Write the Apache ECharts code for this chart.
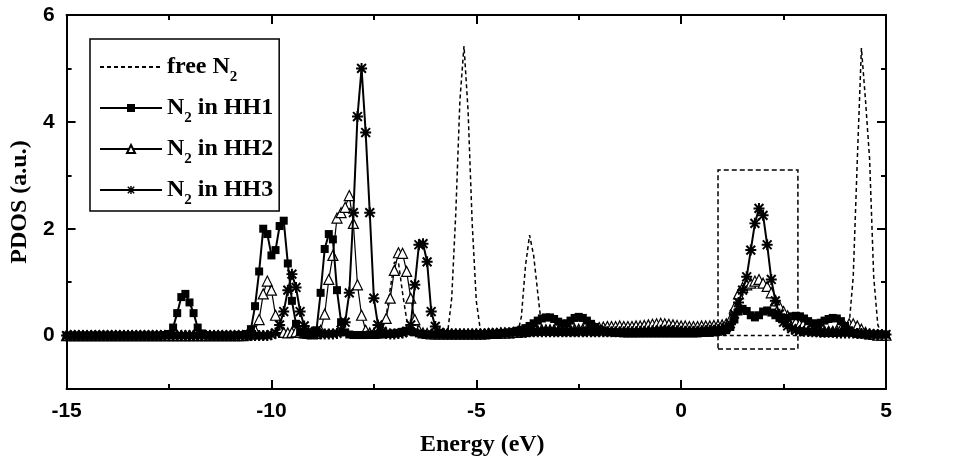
<!DOCTYPE html>
<html>
<head>
<meta charset="utf-8">
<title>PDOS of N2</title>
<script src="https://cdn.jsdelivr.net/npm/echarts@6.0.0/dist/echarts.min.js"></script>
<style>
    html, body { margin: 0; padding: 0; background: #fff; }
    #pdos_chart { width: 960px; height: 469px; }
</style>
</head>
<body>
<div id="pdos_chart"></div>
<script>
// energy grid (eV), one row per eV
var energy = [
    -15, -14.9, -14.8, -14.7, -14.6, -14.5, -14.4, -14.3, -14.2, -14.1,
    -14, -13.9, -13.8, -13.7, -13.6, -13.5, -13.4, -13.3, -13.2, -13.1,
    -13, -12.9, -12.8, -12.7, -12.6, -12.5, -12.4, -12.3, -12.2, -12.1,
    -12, -11.9, -11.8, -11.7, -11.6, -11.5, -11.4, -11.3, -11.2, -11.1,
    -11, -10.9, -10.8, -10.7, -10.6, -10.5, -10.4, -10.3, -10.2, -10.1,
    -10, -9.9, -9.8, -9.7, -9.6, -9.5, -9.4, -9.3, -9.2, -9.1,
    -9, -8.9, -8.8, -8.7, -8.6, -8.5, -8.4, -8.3, -8.2, -8.1,
    -8, -7.9, -7.8, -7.7, -7.6, -7.5, -7.4, -7.3, -7.2, -7.1,
    -7, -6.9, -6.8, -6.7, -6.6, -6.5, -6.4, -6.3, -6.2, -6.1,
    -6, -5.9, -5.8, -5.7, -5.6, -5.5, -5.4, -5.3, -5.2, -5.1,
    -5, -4.9, -4.8, -4.7, -4.6, -4.5, -4.4, -4.3, -4.2, -4.1,
    -4, -3.9, -3.8, -3.7, -3.6, -3.5, -3.4, -3.3, -3.2, -3.1,
    -3, -2.9, -2.8, -2.7, -2.6, -2.5, -2.4, -2.3, -2.2, -2.1,
    -2, -1.9, -1.8, -1.7, -1.6, -1.5, -1.4, -1.3, -1.2, -1.1,
    -1, -0.9, -0.8, -0.7, -0.6, -0.5, -0.4, -0.3, -0.2, -0.1,
    0, 0.1, 0.2, 0.3, 0.4, 0.5, 0.6, 0.7, 0.8, 0.9,
    1, 1.1, 1.2, 1.3, 1.4, 1.5, 1.6, 1.7, 1.8, 1.9,
    2, 2.1, 2.2, 2.3, 2.4, 2.5, 2.6, 2.7, 2.8, 2.9,
    3, 3.1, 3.2, 3.3, 3.4, 3.5, 3.6, 3.7, 3.8, 3.9,
    4, 4.1, 4.2, 4.3, 4.4, 4.5, 4.6, 4.7, 4.8, 4.9,
    5
];

var free_n2 = [
    0, 0, 0, 0, 0, 0, 0, 0, 0, 0,
    0, 0, 0, 0, 0, 0, 0, 0, 0, 0,
    0, 0, 0, 0, 0, 0, 0, 0, 0, 0,
    0, 0, 0, 0, 0, 0, 0, 0, 0, 0,
    0, 0, 0, 0, 0, 0, 0, 0, 0, 0,
    0, 0, 0, 0, 0, 0, 0, 0, 0, 0,
    0, 0, 0, 0, 0, 0, 0, 0, 0, 0,
    0, 0, 0, 0, 0, 0, 0.01, 0.1, 0.36, 0.88,
    1.37, 1.37, 0.8, 0.3, 0.07, 0.01, 0, 0, 0, 0,
    0, 0, 0.01, 0.05, 0.7, 2.3, 4.4, 5.42, 4.2, 2.1,
    0.65, 0.1, 0.01, 0, 0, 0, 0, 0, 0, 0,
    0.02, 0.35, 1.3, 1.88, 1.5, 0.8, 0.12, 0.01, 0, 0,
    0, 0, 0, 0, 0, 0, 0, 0, 0, 0,
    0, 0, 0, 0, 0, 0, 0, 0, 0, 0,
    0, 0, 0, 0, 0, 0, 0, 0, 0, 0,
    0, 0, 0, 0, 0, 0, 0, 0, 0, 0,
    0, 0, 0, 0, 0, 0, 0, 0, 0, 0,
    0, 0, 0, 0, 0, 0, 0, 0, 0, 0,
    0, 0, 0, 0, 0, 0, 0, 0, 0, 0,
    0.02, 0.2, 1.1, 3.3, 5.38, 4.4, 3.3, 1.1, 0.2, 0.02,
    0
];

var hh1 = [
    0, 0, 0, 0, 0, 0, 0, 0, 0, 0,
    0, 0, 0, 0, 0, 0, 0, 0, 0, 0,
    0, 0, 0, 0, 0.01, 0.03, 0.15, 0.42, 0.72, 0.78,
    0.62, 0.42, 0.15, 0.04, 0.01, 0, 0, 0, 0, 0,
    0, 0, 0.01, 0.01, 0.03, 0.12, 0.55, 1.2, 2.0, 1.9,
    1.5, 1.6, 2.05, 2.15, 1.35, 0.65, 0.22, 0.06, 0.02, 0.01,
    0.03, 0.1, 0.8, 1.62, 1.9, 1.8, 0.85, 0.25, 0.06, 0.02,
    0.01, 0.01, 0.01, 0.01, 0.02, 0.02, 0.02, 0.02, 0.03, 0.03,
    0.04, 0.05, 0.07, 0.09, 0.08, 0.06, 0.04, 0.03, 0.02, 0.02,
    0.02, 0.02, 0.02, 0.02, 0.02, 0.02, 0.02, 0.02, 0.02, 0.02,
    0.02, 0.02, 0.02, 0.02, 0.03, 0.03, 0.04, 0.05, 0.06, 0.07,
    0.09, 0.11, 0.14, 0.18, 0.23, 0.28, 0.32, 0.34, 0.34, 0.31,
    0.26, 0.22, 0.23, 0.28, 0.33, 0.35, 0.33, 0.28, 0.22, 0.16,
    0.12, 0.09, 0.07, 0.06, 0.05, 0.05, 0.04, 0.04, 0.04, 0.04,
    0.04, 0.04, 0.04, 0.04, 0.04, 0.04, 0.04, 0.04, 0.04, 0.04,
    0.04, 0.04, 0.04, 0.04, 0.04, 0.05, 0.05, 0.05, 0.06, 0.07,
    0.08, 0.1, 0.16, 0.3, 0.45, 0.5, 0.46, 0.38, 0.34, 0.38,
    0.45, 0.47, 0.43, 0.38, 0.33, 0.31, 0.33, 0.36, 0.37, 0.36,
    0.32, 0.27, 0.23, 0.22, 0.24, 0.28, 0.31, 0.33, 0.32, 0.27,
    0.18, 0.1, 0.05, 0.03, 0.02, 0.02, 0.02, 0.02, 0.02, 0.02,
    0.02
];

var hh2 = [
    0, 0, 0, 0, 0, 0, 0, 0, 0, 0,
    0, 0, 0, 0, 0, 0, 0, 0, 0, 0,
    0, 0, 0, 0, 0, 0, 0, 0, 0, 0,
    0, 0, 0, 0, 0, 0, 0, 0, 0, 0,
    0, 0, 0, 0, 0.01, 0.03, 0.1, 0.3, 0.78, 1.02,
    0.85, 0.38, 0.12, 0.06, 0.05, 0.06, 0.07, 0.06, 0.05, 0.04,
    0.03, 0.04, 0.1, 0.4, 1.05, 1.5, 2.2, 2.3, 2.4, 2.62,
    2.1, 0.95, 0.38, 0.1, 0.05, 0.04, 0.06, 0.12, 0.32, 0.7,
    1.22, 1.55, 1.54, 1.2, 0.7, 0.3, 0.1, 0.05, 0.04, 0.03,
    0.03, 0.03, 0.03, 0.03, 0.03, 0.03, 0.03, 0.03, 0.03, 0.03,
    0.03, 0.03, 0.03, 0.04, 0.04, 0.04, 0.05, 0.05, 0.05, 0.06,
    0.06, 0.07, 0.08, 0.09, 0.1, 0.1, 0.11, 0.11, 0.11, 0.11,
    0.1, 0.1, 0.1, 0.11, 0.12, 0.12, 0.12, 0.12, 0.13, 0.14,
    0.15, 0.16, 0.17, 0.17, 0.17, 0.18, 0.17, 0.17, 0.17, 0.18,
    0.18, 0.19, 0.2, 0.21, 0.22, 0.23, 0.22, 0.21, 0.2, 0.19,
    0.18, 0.18, 0.17, 0.17, 0.17, 0.18, 0.18, 0.18, 0.19, 0.19,
    0.2, 0.22, 0.3, 0.52, 0.78, 0.9, 0.95, 0.98, 1.02, 1.05,
    0.98, 0.92, 0.8, 0.65, 0.55, 0.45, 0.37, 0.3, 0.25, 0.22,
    0.24, 0.22, 0.18, 0.12, 0.1, 0.08, 0.08, 0.08, 0.1, 0.12,
    0.17, 0.22, 0.22, 0.18, 0.12, 0.06, 0.03, 0.02, 0.01, 0.01,
    0.01
];

var hh3 = [
    0, 0, 0, 0, 0, 0, 0, 0, 0, 0,
    0, 0, 0, 0, 0, 0, 0, 0, 0, 0,
    0, 0, 0, 0, 0, 0, 0, 0, 0, 0,
    0, 0, 0, 0, 0, 0, 0, 0, 0, 0,
    0, 0, 0, 0, 0, 0, 0, 0, 0, 0,
    0.02, 0.05, 0.2, 0.45, 0.85, 1.15, 0.9, 0.45, 0.18, 0.08,
    0.05, 0.04, 0.03, 0.03, 0.03, 0.03, 0.04, 0.1, 0.25, 0.8,
    2.3, 4.1, 5.0, 3.8, 2.3, 0.7, 0.2, 0.08, 0.04, 0.03,
    0.03, 0.04, 0.05, 0.08, 0.2, 0.95, 1.7, 1.72, 1.38, 0.45,
    0.17, 0.06, 0.04, 0.03, 0.03, 0.03, 0.03, 0.03, 0.03, 0.03,
    0.03, 0.03, 0.03, 0.04, 0.04, 0.04, 0.05, 0.05, 0.05, 0.05,
    0.06, 0.06, 0.06, 0.07, 0.07, 0.07, 0.07, 0.07, 0.07, 0.07,
    0.07, 0.07, 0.07, 0.07, 0.07, 0.07, 0.07, 0.07, 0.07, 0.07,
    0.07, 0.07, 0.07, 0.07, 0.07, 0.07, 0.07, 0.07, 0.07, 0.07,
    0.08, 0.08, 0.08, 0.09, 0.09, 0.1, 0.1, 0.1, 0.09, 0.09,
    0.08, 0.08, 0.08, 0.08, 0.08, 0.09, 0.09, 0.1, 0.1, 0.11,
    0.12, 0.15, 0.22, 0.4, 0.62, 0.85, 1.1, 1.6, 2.1, 2.38,
    2.25, 1.7, 1.05, 0.65, 0.4, 0.25, 0.18, 0.13, 0.1, 0.09,
    0.08, 0.08, 0.07, 0.07, 0.06, 0.06, 0.06, 0.06, 0.05, 0.05,
    0.05, 0.05, 0.05, 0.04, 0.04, 0.03, 0.03, 0.02, 0.02, 0.02,
    0.02
];

var series_names = ['free N2', 'N2 in HH1', 'N2 in HH2', 'N2 in HH3'];
var y_major_ticks = [0, 2, 4, 6];
// dashed box around the 1-3 eV region (data coordinates)
var box_x = [0.9, 2.85];
var box_y = [-0.25, 3.1];

// asterisk marker built from four bars
var star_symbol = 'path://M8.2 0L11.8 0L11.8 20L8.2 20Z' +
    'M0 8.2L20 8.2L20 11.8L0 11.8Z' +
    'M0.7 3.3L3.3 0.7L19.3 16.7L16.7 19.3Z' +
    'M16.7 0.7L19.3 3.3L3.3 19.3L0.7 16.7Z';

function pairs(values) {
    return energy.map(function (e, i) {
        return [e, values[i]];
    });
}

var black_line = {color: '#000', width: 2};

function x_axis(position, show_label) {
    return {
        type: 'value',
        position: position,
        min: -15,
        max: 5,
        interval: 5,
        axisLine: {show: true, onZero: false, lineStyle: black_line},
        axisTick: {show: true, inside: true, length: 9, lineStyle: black_line},
        minorTick: {show: true, splitNumber: 2, length: 5, lineStyle: black_line},
        axisLabel: {
            show: show_label,
            color: '#000',
            fontSize: 21,
            fontWeight: 'bold',
            fontFamily: 'Liberation Sans',
            margin: 12
        },
        splitLine: {show: false},
        minorSplitLine: {show: false}
    };
}

function y_axis(position, major, show_line) {
    var axis = {
        type: 'value',
        position: position,
        min: -1,
        max: 6,
        interval: 1,
        axisLine: {show: show_line, onZero: false, lineStyle: black_line},
        axisTick: {show: true, inside: true, length: major ? 9 : 5, lineStyle: black_line},
        axisLabel: {show: false},
        splitLine: {show: false}
    };
    if (major) {
        axis.axisTick.customValues = y_major_ticks;
    }
    return axis;
}

var left_axis = y_axis('left', false, true);
left_axis.name = 'PDOS (a.u.)';
left_axis.nameLocation = 'middle';
left_axis.nameGap = 30;
left_axis.nameTextStyle = {
    color: '#000',
    fontFamily: 'Liberation Serif',
    fontSize: 24,
    fontWeight: 'bold'
};
left_axis.axisLabel = {
    show: true,
    customValues: y_major_ticks,
    color: '#000',
    fontSize: 21,
    fontWeight: 'bold',
    fontFamily: 'Liberation Sans',
    margin: 12
};

var bottom_axis = x_axis('bottom', true);
bottom_axis.name = 'Energy (eV)';
bottom_axis.nameLocation = 'middle';
bottom_axis.nameGap = 44;
bottom_axis.nameTextStyle = {
    color: '#000',
    fontFamily: 'Liberation Serif',
    fontSize: 24,
    fontWeight: 'bold',
    padding: [0, 0, 0, 12]
};

var pdosChart = echarts.init(document.getElementById('pdos_chart'));
var pdos_option = {
    animation: false,
    backgroundColor: '#fff',
    grid: {left: 63, right: 74, top: 15, bottom: 80},
    legend: {
        orient: 'vertical',
        left: 90,
        top: 39,
        padding: [10, 6, 3, 9],
        itemWidth: 62,
        itemHeight: 10,
        itemGap: 5,
        borderColor: '#000',
        borderWidth: 1.5,
        selectedMode: false,
        data: [
            {name: series_names[0], itemStyle: {opacity: 0}},
            series_names[1],
            series_names[2],
            series_names[3]
        ],
        formatter: function (name) {
            return name.replace('N2', 'N{s|2}');
        },
        textStyle: {
            color: '#000',
            fontFamily: 'Liberation Serif',
            fontSize: 24,
            fontWeight: 'bold',
            lineHeight: 36,
            rich: {
                s: {
                    color: '#000',
                    fontFamily: 'Liberation Serif',
                    fontSize: 15,
                    fontWeight: 'bold',
                    lineHeight: 14,
                    verticalAlign: 'bottom'
                }
            }
        }
    },
    xAxis: [bottom_axis, x_axis('top', false)],
    yAxis: [left_axis, y_axis('left', true, false), y_axis('right', false, true), y_axis('right', true, false)],
    series: [{
        name: series_names[0],
        type: 'line',
        data: pairs(free_n2),
        symbol: 'none',
        z: 1,
        itemStyle: {color: '#000'},
        lineStyle: {color: '#000', width: 1.5, type: [4, 3]},
        markArea: {
            silent: true,
            itemStyle: {
                color: 'rgba(0,0,0,0)',
                borderColor: '#000',
                borderWidth: 1.5,
                borderType: [5, 3]
            },
            data: [[{coord: [box_x[0], box_y[0]]}, {coord: [box_x[1], box_y[1]]}]]
        }
    },
        {
            name: series_names[1],
            type: 'line',
            data: pairs(hh1),
            symbol: 'rect',
            symbolSize: 8,
            z: 4,
            itemStyle: {color: '#000'},
            lineStyle: {color: '#000', width: 2}
        },
        {
            name: series_names[2],
            type: 'line',
            data: pairs(hh2),
            symbol: 'triangle',
            symbolSize: 10,
            z: 2,
            itemStyle: {color: '#fff', borderColor: '#000', borderWidth: 1.2},
            lineStyle: {color: '#000', width: 1.2}
        },
        {
            name: series_names[3],
            type: 'line',
            data: pairs(hh3),
            symbol: star_symbol,
            symbolSize: 11,
            z: 3,
            itemStyle: {color: '#000'},
            lineStyle: {color: '#000', width: 2}
        }]
};
pdosChart.setOption(pdos_option);
</script>
</body>
</html>
